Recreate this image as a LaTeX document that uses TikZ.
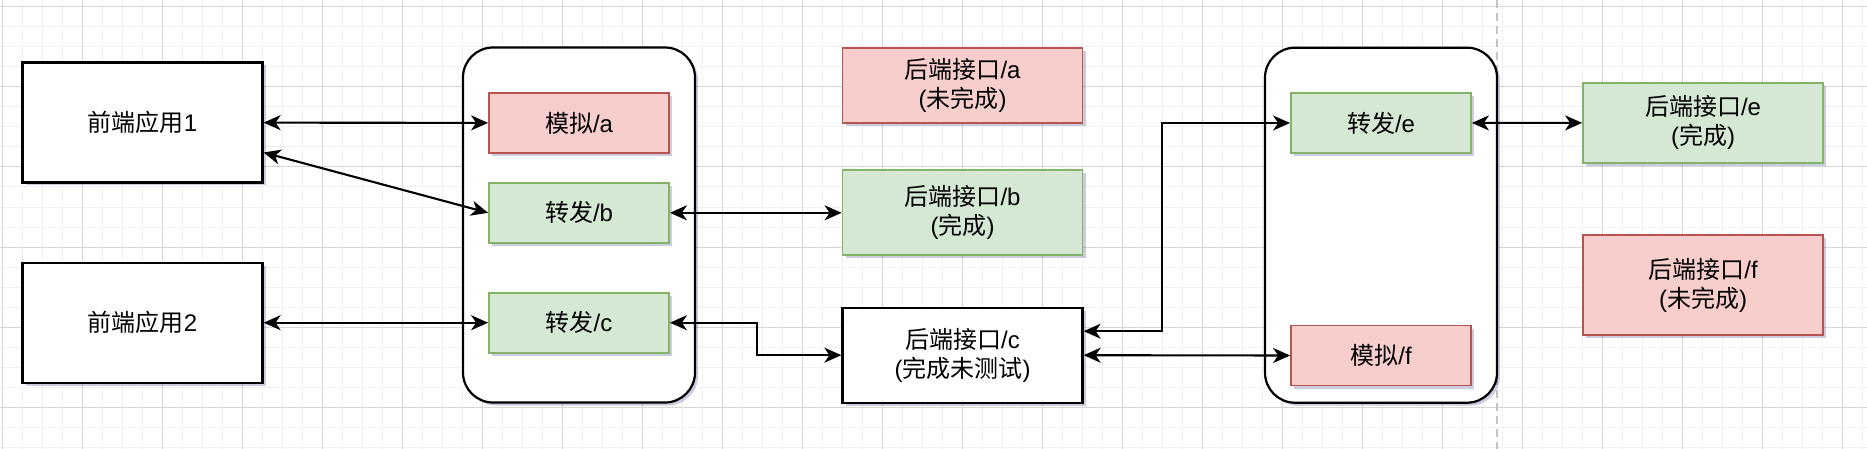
\documentclass[tikz,border=0pt]{standalone}
\usepackage{fontspec}
\setmainfont{Liberation Sans}
\newfontfamily\cjk{Noto Sans CJK SC}
\usetikzlibrary{shadows,arrows.meta}
\newcommand{\zh}[1]{{\cjk #1}}
\definecolor{redfill}{HTML}{F8CECC}
\definecolor{redline}{HTML}{B85450}
\definecolor{greenfill}{HTML}{D5E8D4}
\definecolor{greenline}{HTML}{82B366}
\definecolor{gridminor}{HTML}{F1F1F1}
\definecolor{gridmajor}{HTML}{D6D6D6}
\definecolor{pageline}{HTML}{C4C4C4}
\tikzset{
  boxshadow/.style={drop shadow={shadow xshift=3pt, shadow yshift=-3pt, opacity=.2, fill=black!60!blue}},
  box/.style={draw=black, line width=2.2pt, fill=white, minimum width=240pt, minimum height=120pt,
    inner sep=0pt, align=center, font=\fontsize{24}{29}\selectfont, boxshadow},
  mockbox/.style={box, fill=redfill, draw=redline, line width=1.8pt, minimum width=180pt, minimum height=60pt},
  fwdbox/.style={box, fill=greenfill, draw=greenline, line width=1.8pt, minimum width=180pt, minimum height=60pt},
  gateway/.style={draw=black, line width=2.2pt, fill=white, rounded corners=30pt,
    minimum width=232pt, minimum height=355pt, inner sep=0pt, boxshadow},
  link/.style={{Stealth[length=17pt,width=15pt,inset=5pt]}-{Stealth[length=17pt,width=15pt,inset=5pt]}, line width=2.1pt}
}
\begin{document}
\begin{tikzpicture}[x=1pt,y=-1pt]
	\useasboundingbox (0,0) rectangle (1867,449);
	% canvas grid
	\fill[white] (0,0) rectangle (1867,449);
	\foreach \gx in {2,22,...,1862} \draw[gridminor, line width=1pt] (\gx,0) -- (\gx,449);
	\foreach \gy in {7,27,...,447} \draw[gridminor, line width=1pt] (0,\gy) -- (1867,\gy);
	\foreach \gx in {2,82,...,1842} \draw[gridmajor, line width=1pt] (\gx,0) -- (\gx,449);
	\foreach \gy in {7,87,...,407} \draw[gridmajor, line width=1pt] (0,\gy) -- (1867,\gy);
	% page break
	\draw[pageline, line width=1.5pt, dash pattern=on 8pt off 5pt] (1497,0) -- (1497,449);

	% front ends
	\node[box] (fe1) at (142.5,122.5) {\zh{前端应用}1};
	\node[box] (fe2) at (142.5,322.7) {\zh{前端应用}2};

	% first gateway
	\node[gateway] (gw1) at (579,225) {};
	\node[mockbox] (mocka) at (579,123) {\zh{模拟}/a};
	\node[fwdbox] (fwdb) at (579,212.8) {\zh{转发}/b};
	\node[fwdbox] (fwdc) at (579,322.7) {\zh{转发}/c};

	% back ends
	\node[mockbox, minimum width=240pt, minimum height=75pt] (bea) at (962.5,85.3) {\zh{后端接口}/a\\(\zh{未完成})};
	\node[fwdbox, minimum width=240pt, minimum height=85pt] (beb) at (962.5,212.8) {\zh{后端接口}/b\\(\zh{完成})};
	\node[box, minimum height=95pt] (bec) at (962.5,355.2) {\zh{后端接口}/c\\(\zh{完成未测试})};

	% second gateway
	\node[gateway] (gw2) at (1381,225.2) {};
	\node[fwdbox] (fwde) at (1381,123) {\zh{转发}/e};
	\node[mockbox] (mockf) at (1381,355.5) {\zh{模拟}/f};

	\node[fwdbox, minimum width=240pt, minimum height=80pt] (bee) at (1703,122.8) {\zh{后端接口}/e\\(\zh{完成})};
	\node[mockbox, minimum width=240pt, minimum height=100pt] (bef) at (1703,285.2) {\zh{后端接口}/f\\(\zh{未完成})};

	% connectors
	\draw[link] (fe1) -- (mocka);
	\draw[link] ([yshift=-30pt]fe1.east) -- (fwdb.west);
	\draw[link] (fe2) -- (fwdc);
	\draw[link] (fwdb) -- (beb);
	\draw[link] (fwdc.east) -- ++(87,0) |- (bec.west);
	\draw[link] (fwde.west) -- ++(-128,0) |- ([yshift=24pt]bec.east);
	\draw[link] (bec.east) -- (mockf.west);
	\draw[link] (fwde) -- (bee);
\end{tikzpicture}
\end{document}
